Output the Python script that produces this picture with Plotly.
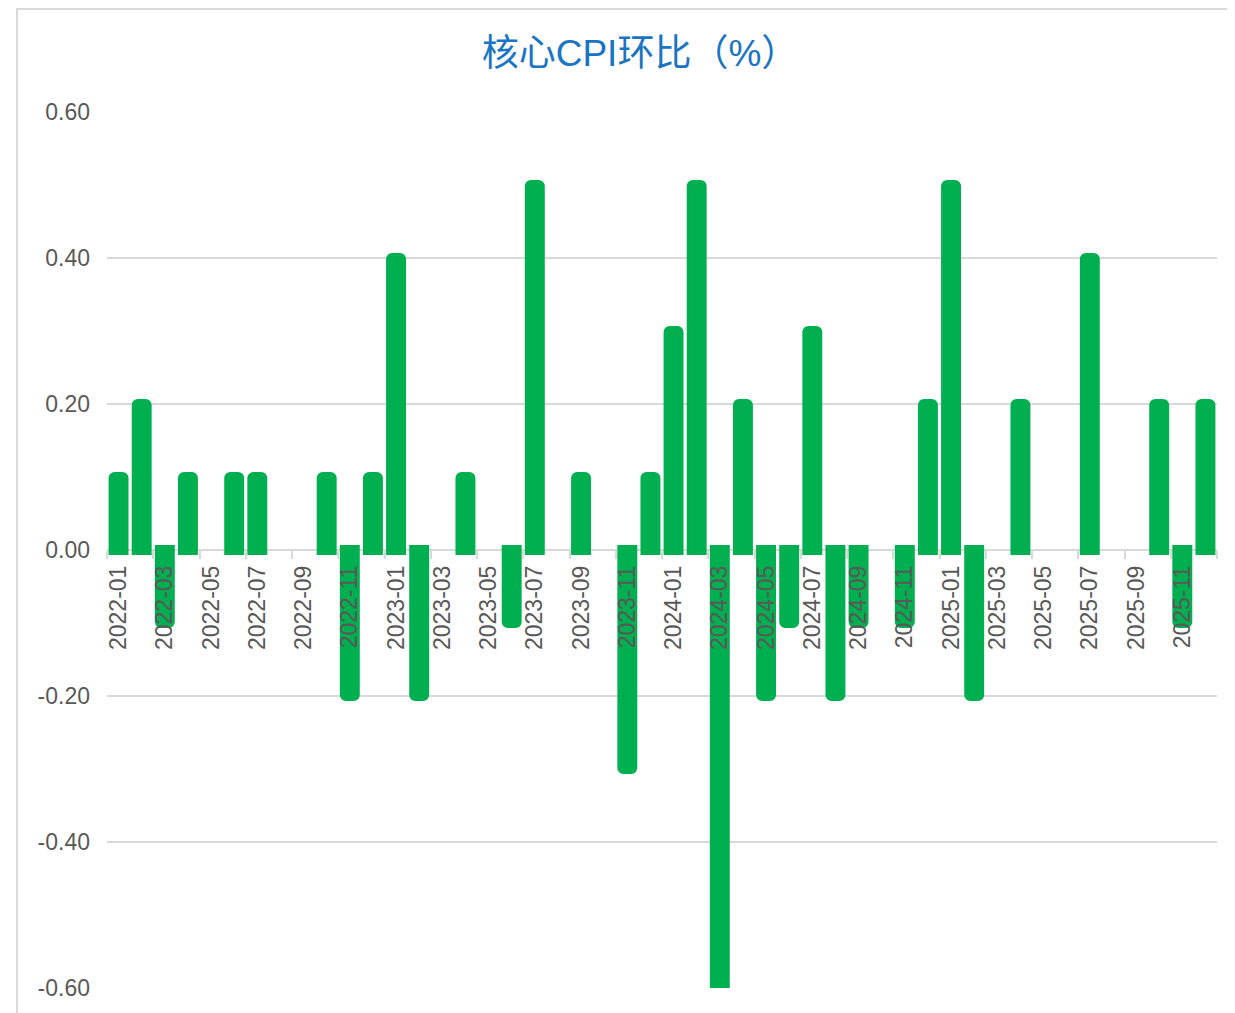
import plotly.graph_objects as go

months = [f"{y}-{m:02d}" for y in range(2022, 2026) for m in range(1, 13)]
values = [
    0.1, 0.2, -0.1, 0.1, 0.0, 0.1, 0.1, 0.0, 0.0, 0.1, -0.2, 0.1,
    0.4, -0.2, 0.0, 0.1, 0.0, -0.1, 0.5, 0.0, 0.1, 0.0, -0.3, 0.1,
    0.3, 0.5, -0.6, 0.2, -0.2, -0.1, 0.3, -0.2, -0.1, 0.0, -0.1, 0.2,
    0.5, -0.2, 0.0, 0.2, 0.0, 0.0, 0.4, 0.0, 0.0, 0.2, -0.1, 0.2,
]
y_ticks = [-0.6, -0.4, -0.2, 0.0, 0.2, 0.4, 0.6]
y_ticktext = [f"{v:.2f}" for v in y_ticks]
title_text = "核心CPI环比（%）"

GREEN = "#00B050"
GREY_TXT = "#595959"
GRID = "#D9D9D9"
FONT = "Liberation Sans, Arial, Noto Sans CJK SC, sans-serif"

# page has an 8px body offset; layout coordinates = pixel - 8
L, R_EDGE, T, B_EDGE = 99, 1209, 104, 980
W, H = 1227, 1005
PW, PH = R_EDGE - L, B_EDGE - T

fig = go.Figure()
fig.add_trace(go.Bar(
    x=months, y=values,
    width=0.43,
    marker=dict(color=GREEN,
                line=dict(color=GREEN, width=[0 if v == 0 else 10 for v in values])),
    hoverinfo="x+y",
))

fig.update_layout(
    width=W, height=H,
    margin=dict(l=L, r=W - R_EDGE, t=T, b=H - B_EDGE),
    paper_bgcolor="white", plot_bgcolor="white",
    showlegend=False,
    barcornerradius=1,
    title=dict(text=title_text, x=(640 - 8) / W, xanchor="center",
               y=1 - (53 - 8) / H, yanchor="middle",
               font=dict(family=FONT, size=37, color="#1A74C4")),
    font=dict(family=FONT, color=GREY_TXT),
)
fig.update_yaxes(
    range=[-0.6, 0.6], tickvals=y_ticks, ticktext=y_ticktext,
    showgrid=True, gridcolor=GRID, gridwidth=2,
    zeroline=True, zerolinecolor=GRID, zerolinewidth=2,
    showline=False, ticks="", ticklabelstandoff=16,
    tickfont=dict(size=23, color=GREY_TXT, family=FONT),
)
fig.update_xaxes(
    type="category", anchor="free", position=0.5,
    tickmode="linear", tick0=0, dtick=2, tickson="boundaries",
    ticks="outside", ticklen=8, tickwidth=2, tickcolor=GRID,
    tickangle=-90, showgrid=False, showline=False, zeroline=False,
    ticklabelstandoff=10,
    tickfont=dict(size=23, color=GREY_TXT, family=FONT),
    range=[-0.5, 47.5],
)
# outer frame of the chart container
fig.add_shape(type="rect", xref="paper", yref="paper",
              x0=(17 - 8 - L) / PW, x1=(1240 - 8 - L) / PW,
              y0=(B_EDGE - 1040) / PH, y1=(B_EDGE - 1) / PH,
              line=dict(color=GRID, width=2), fillcolor="rgba(0,0,0,0)", layer="below")

fig.write_html("out.html")
